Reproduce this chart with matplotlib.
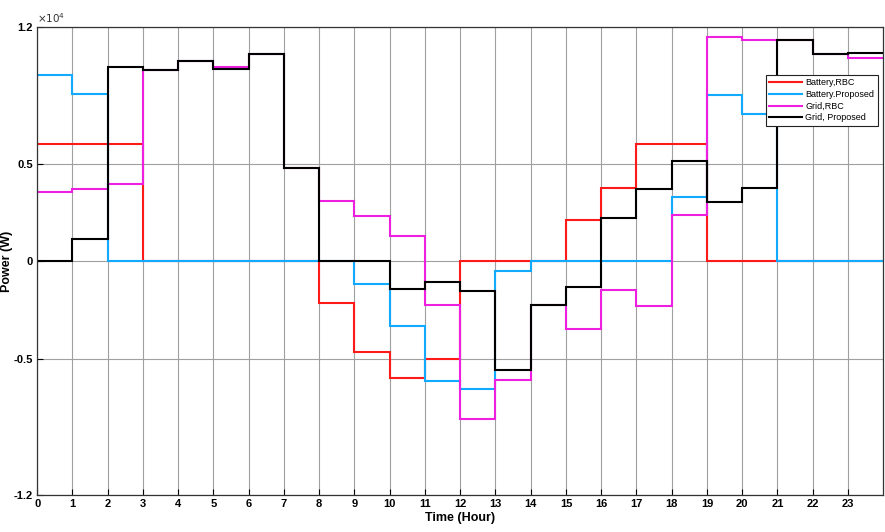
import numpy as np
import matplotlib
matplotlib.use('Agg')
import matplotlib.pyplot as plt
from matplotlib.ticker import FixedLocator, FuncFormatter

plt.rcParams['font.family'] = ['Liberation Sans', 'DejaVu Sans']

# hourly power values in W (hours 0..23)
hours = np.arange(25)
battery_rbc = [6030, 6030, 6030, 0, 0, 0, 0, 0, -2170, -4680, -6000, -5010,
               0, 0, 0, 2120, 3730, 6030, 6030, 0, 0, 0, 0, 0]
battery_prop = [9540, 8560, 0, 0, 0, 0, 0, 0, 0, -1160, -3320, -6150,
                -6560, -500, 0, 0, 0, 0, 3280, 8500, 7540, 0, 0, 0]
grid_rbc = [3520, 3680, 3930, 9780, 10260, 9950, 10600, 4750, 3060, 2290, 1270, -2240,
            -8120, -6100, -2260, -3470, -1490, -2310, 2380, 11500, 11320, 11320, 10600, 10430]
grid_prop = [0, 1140, 9930, 9780, 10260, 9850, 10600, 4750, 0, 0, -1440, -1090,
             -1560, -5590, -2260, -1350, 2220, 3680, 5140, 3030, 3760, 11320, 10600, 10650]

fig = plt.figure(figsize=(8.85, 5.32), dpi=100)
ax = fig.add_axes([0.042, 0.0695, 0.956, 0.8795])

ax.stairs(battery_rbc, hours, baseline=None, color='#ff1a1a', lw=1.5, label='Battery,RBC')
ax.stairs(battery_prop, hours, baseline=None, color='#12aaff', lw=1.5, label='Battery.Proposed')
ax.stairs(grid_rbc, hours, baseline=None, color='#ee1fe0', lw=1.5, label='Grid,RBC')
ax.stairs(grid_prop, hours, baseline=None, color='black', lw=1.5, label='Grid, Proposed')

ax.set_xlim(0, 24)
ax.set_ylim(-12000, 12000)
ax.set_xticks(np.arange(24))
ax.yaxis.set_major_locator(FixedLocator([-12000, -5000, 0, 5000, 12000]))
ax.yaxis.set_major_formatter(FuncFormatter(lambda v, p: '0' if v == 0 else '%g' % (v / 1e4)))
ax.tick_params(direction='in', labelsize=8, length=4, width=0.8, pad=3)
for lab in ax.get_xticklabels() + ax.get_yticklabels():
    lab.set_fontweight('bold')

ax.grid(True, color='#a0a0a0', lw=0.8)
ax.set_axisbelow(True)
for s in ax.spines.values():
    s.set_color('#333333')
    s.set_linewidth(0.9)

ax.text(0.0, 1.005, r'$\times10^4$', transform=ax.transAxes, fontsize=7.5,
        ha='left', va='bottom', color='#333333')
ax.set_xlabel('Time (Hour)', fontsize=9, fontweight='bold', labelpad=2)
ax.set_ylabel('Power (W)', fontsize=9, fontweight='bold')
ax.yaxis.set_label_coords(-0.028, 0.5)

leg = ax.legend(loc='upper right', bbox_to_anchor=(0.999, 0.908), fontsize=6.5,
                frameon=True, fancybox=False, edgecolor='#222222', framealpha=1,
                handlelength=3.6, borderpad=0.4, labelspacing=0.3, handletextpad=0.4)
leg.get_frame().set_linewidth(0.8)

fig.savefig('out.png', dpi=100)
